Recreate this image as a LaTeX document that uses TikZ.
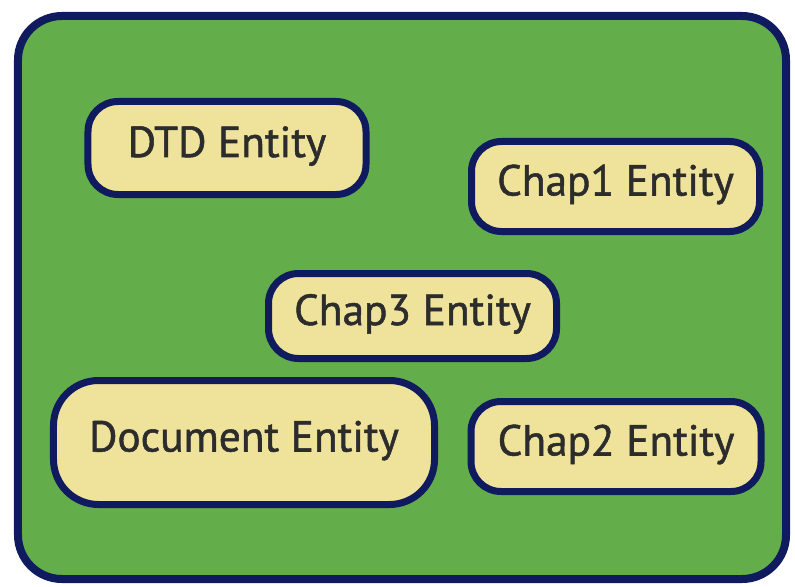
\documentclass[tikz,border=0pt]{standalone}
\usepackage{fontspec}
\setmainfont{PT Sans}[FakeBold=1.2]
\definecolor{navy}{HTML}{101A5E}
\definecolor{leaf}{HTML}{63AD4B}
\definecolor{cream}{HTML}{EFE39C}
\definecolor{ink}{HTML}{2C2C2C}
\tikzset{
  entity/.style={draw=navy, line width=7bp, fill=cream, text=ink,
    font=\fontsize{43.5}{43.5}\selectfont, inner sep=0pt, anchor=center,
    text height=30bp, text depth=12bp},
}
\begin{document}
\begin{tikzpicture}[x=1bp,y=-1bp]
  \useasboundingbox (0,0) rectangle (795,587);
  % container
  \node[draw=navy, fill=leaf, line width=8bp, rounded corners=44bp,
        minimum width=768bp, minimum height=563bp, inner sep=0pt]
        (frame) at (402,297.5) {};
  % entities
  \node[entity, rounded corners=30bp, minimum width=278bp, minimum height=93bp]
        (dtd) at (227,148) {DTD Entity};
  \node[entity, rounded corners=30bp, minimum width=288bp, minimum height=90bp]
        (chap1) at (615.5,186.5) {Chap1 Entity};
  \node[entity, rounded corners=30bp, minimum width=288bp, minimum height=85bp]
        (chap3) at (412.5,316) {Chap3 Entity};
  \node[entity, rounded corners=45bp, minimum width=381bp, minimum height=124bp]
        (doc) at (244,442.5) {Document Entity};
  \node[entity, rounded corners=30bp, minimum width=290bp, minimum height=90bp]
        (chap2) at (616,446.5) {Chap2 Entity};
\end{tikzpicture}
\end{document}
